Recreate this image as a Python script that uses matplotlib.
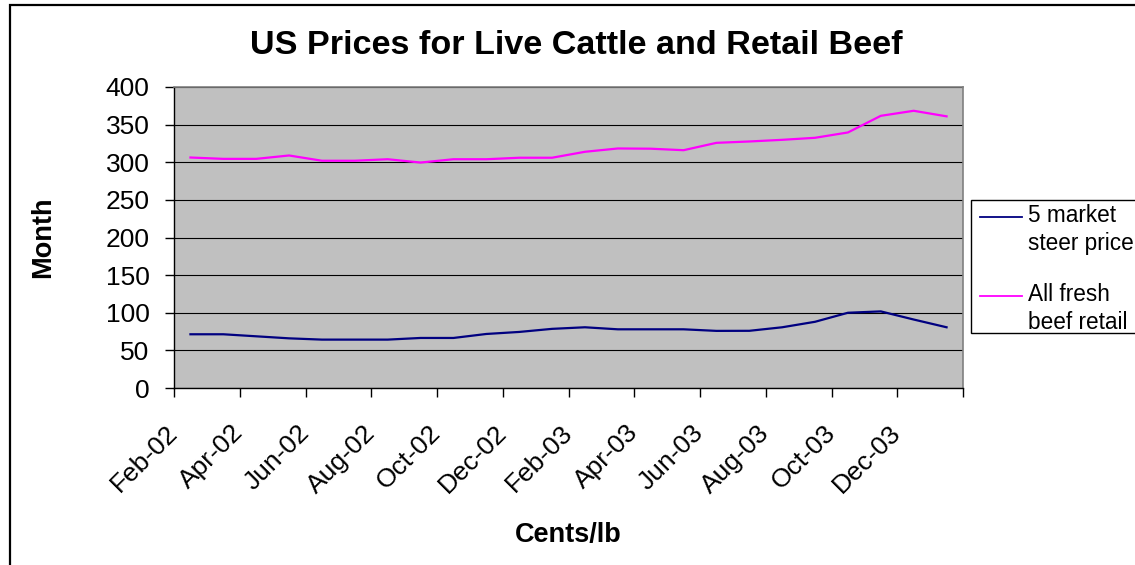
import matplotlib
matplotlib.use("Agg")
import matplotlib.pyplot as plt
from matplotlib.lines import Line2D
from matplotlib.patches import Rectangle

plt.rcParams['font.family'] = ['Liberation Sans', 'DejaVu Sans']

months = ["Feb-02", "Mar-02", "Apr-02", "May-02", "Jun-02", "Jul-02", "Aug-02", "Sep-02",
          "Oct-02", "Nov-02", "Dec-02", "Jan-03", "Feb-03", "Mar-03", "Apr-03", "May-03",
          "Jun-03", "Jul-03", "Aug-03", "Sep-03", "Oct-03", "Nov-03", "Dec-03", "Jan-04"]
steer = [71.4, 71.4, 68.7, 66.0, 64.3, 64.3, 64.3, 66.5, 66.5, 71.8, 74.5, 78.6,
         80.7, 78.0, 78.0, 78.0, 75.9, 76.0, 80.7, 88.0, 100.0, 101.8, 91.0, 80.7]
retail = [306.3, 304.5, 304.5, 309.0, 302.0, 302.0, 304.0, 299.6, 304.0, 304.0, 306.0, 306.0,
          313.9, 318.3, 318.0, 316.0, 325.8, 327.6, 329.8, 332.5, 339.6, 361.7, 368.4, 361.0]
series_names = ["5 market\nsteer price", "All fresh\nbeef retail"]
series_colors = ["#000080", "#FF00FF"]
y_ticks = [0, 50, 100, 150, 200, 250, 300, 350, 400]
title = "US Prices for Live Cattle and Retail Beef"
x_label = "Cents/lb"
y_label = "Month"

W, H = 1135, 565
fig = plt.figure(figsize=(W / 100, H / 100), dpi=100)


def fx(x):
    return x / W


def fy(y):
    return 1 - y / H


ax = fig.add_axes([fx(174), fy(388), fx(963) - fx(174), fy(87) - fy(388)])
ax.set_facecolor("#C0C0C0")

xs = list(range(len(months)))
ax.plot(xs, steer, color=series_colors[0], lw=1.6, solid_joinstyle='round')
ax.plot(xs, retail, color=series_colors[1], lw=1.6, solid_joinstyle='round')

ax.set_xlim(-0.5, len(months) - 0.5)
ax.set_ylim(0, 400)
ax.set_yticks(y_ticks)
ax.set_yticklabels([str(v) for v in y_ticks], fontsize=19)
ax.yaxis.grid(True, color="black", lw=0.8)
ax.set_axisbelow(True)

tick_pos = [i - 0.5 for i in range(0, len(months) + 1, 2)]
tick_lab = [months[i] if i < len(months) else "" for i in range(0, len(months) + 1, 2)]
ax.set_xticks(tick_pos)
ax.set_xticklabels(tick_lab, fontsize=19, rotation=45, ha='right', va='center',
                   rotation_mode='anchor')
ax.tick_params(axis='x', length=6.5, width=1, pad=23, direction='out')
ax.tick_params(axis='y', length=6.5, width=1, pad=11, direction='out')

for s in ['top', 'right']:
    ax.spines[s].set_color('#808080')
    ax.spines[s].set_linewidth(1.2)
for s in ['left', 'bottom']:
    ax.spines[s].set_color('black')
    ax.spines[s].set_linewidth(1.0)

fig.text(fx(576), fy(45), title, ha='center', va='center', fontsize=24.6, fontweight='bold')
fig.text(fx(568), fy(535), x_label, ha='center', va='center', fontsize=19.5, fontweight='bold')
fig.text(fx(43), fy(237), y_label, ha='center', va='center', fontsize=19.5, fontweight='bold',
         rotation=90)

# outer chart border
fig.add_artist(Rectangle((fx(10), fy(600)), fx(1200) - fx(10), fy(5) - fy(600),
                         transform=fig.transFigure, fill=False, ec='black', lw=1.6,
                         clip_on=False))

# legend
fig.add_artist(Rectangle((fx(971), fy(333)), fx(1200) - fx(971), fy(200) - fy(333),
                         transform=fig.transFigure, fill=True, fc='white', ec='black', lw=1.0,
                         clip_on=False))
legend_line_y = [217, 296]
legend_text_y = [204, 283]
for name, col, ly, ty in zip(series_names, series_colors, legend_line_y, legend_text_y):
    fig.add_artist(Line2D([fx(980), fx(1022)], [fy(ly), fy(ly)], transform=fig.transFigure,
                          color=col, lw=1.3))
    fig.text(fx(1028), fy(ty), name, ha='left', va='top', fontsize=16.3, linespacing=1.28)

fig.savefig("out.png", dpi=100)
